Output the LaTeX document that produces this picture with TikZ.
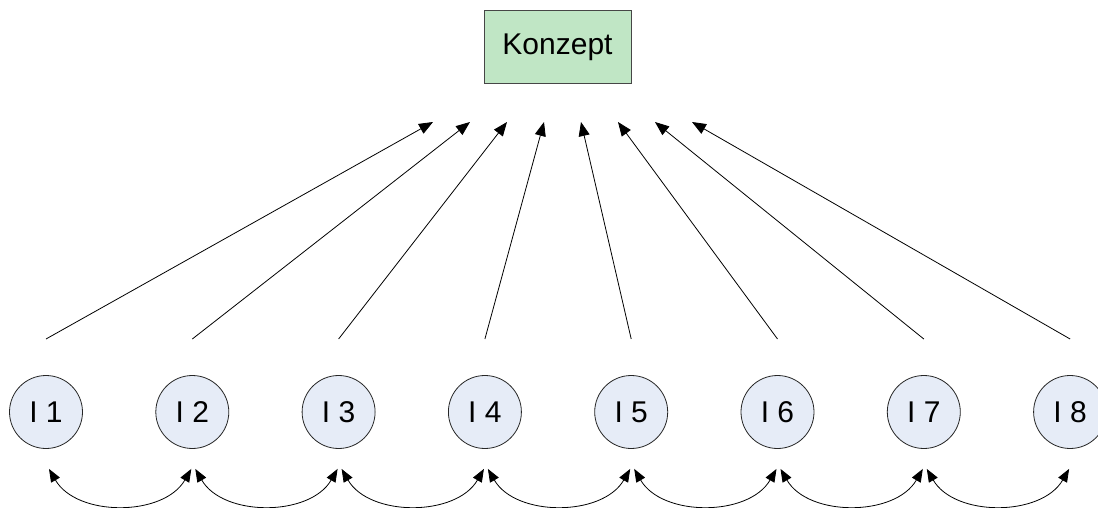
\documentclass[tikz,border=0pt]{standalone}
\usepackage{fontspec}
\setmainfont{Liberation Sans}
\usetikzlibrary{arrows.meta,calc}
\definecolor{conceptgreen}{RGB}{192,230,197}
\definecolor{itemblue}{RGB}{230,236,247}
\definecolor{edgegrey}{RGB}{70,70,70}
\begin{document}
\begin{tikzpicture}[x=1pt,y=1pt,
  concept/.style={draw=edgegrey, line width=1pt, fill=conceptgreen,
    minimum width=147pt, minimum height=73pt, inner sep=0pt,
    font=\fontsize{30}{35}\selectfont},
  item/.style={circle, draw=black!85, line width=0.8pt, fill=itemblue,
    minimum size=73pt, inner sep=0pt, font=\fontsize{30}{35}\selectfont},
  link/.style={line width=0.8pt, -{Triangle[length=14pt,width=11pt]}},
  pair/.style={line width=0.8pt,
    {Triangle[length=13pt,width=10pt]}-{Triangle[length=13pt,width=10pt]}}]
\clip (0,0) rectangle (1098,507);
\fill[white] (0,0) rectangle (1098,507);

% concept box
\node[concept] (k) at (557.5,459.5) {Konzept};

% items, their link ends and arrow targets below the concept box
\foreach \i in {1,...,8} {
  \node[item] (c\i) at ({46+146.3*(\i-1)},95) {I \i};
  \coordinate (b\i) at ($(c\i)+(0,73)$);
  \coordinate (t\i) at ({433+37*(\i-1)},385);
  \coordinate (l\i) at ($(c\i.south)+(-1,-20)$);
  \coordinate (r\i) at ($(c\i.south)+(3,-20)$);
  \draw[link] (b\i) -- (t\i);
}

% exchanges between neighbouring items
\foreach \i [evaluate=\i as \j using int(\i+1)] in {1,...,7} {
  \draw[pair] (r\i) to[bend right=60] (l\j);
}
\end{tikzpicture}
\end{document}
